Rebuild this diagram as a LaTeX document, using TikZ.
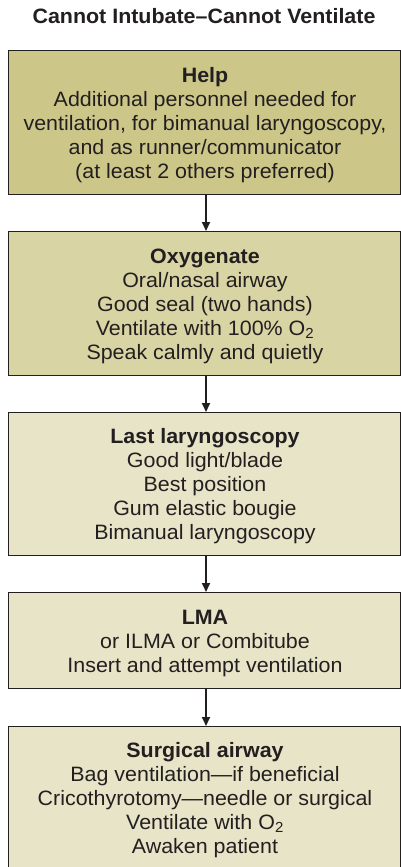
\documentclass[tikz,border=0pt]{standalone}
\usepackage{fontspec}
\setmainfont{Liberation Sans}[FakeStretch=1.03]
\usetikzlibrary{arrows.meta}
\definecolor{boxA}{RGB}{204,199,137}
\definecolor{boxB}{RGB}{217,212,163}
\definecolor{boxC}{RGB}{231,228,199}
\definecolor{ink}{RGB}{35,31,32}
\begin{document}
\begin{tikzpicture}[x=1pt,y=-1pt,
  frame/.style={draw=ink, line width=1pt, minimum width=392pt, inner sep=0pt, anchor=north west},
  txt/.style={align=center, font=\fontsize{20.8}{24}\selectfont, text=ink, anchor=base, inner sep=0pt},
  flow/.style={-{Triangle[width=8pt,length=9pt]}, line width=1.8pt, draw=ink}]
\useasboundingbox (0,0) rectangle (401,867);
\clip (0,0) rectangle (401,867);
\fill[white] (0,0) rectangle (401,867);

\node[txt, font=\fontsize{20.8}{24}\selectfont\bfseries] (title) at (204,24) {Cannot Intubate–Cannot Ventilate};

\node[frame, fill=boxA, minimum height=144pt] (b1) at (8,50) {};
\node[frame, fill=boxB, minimum height=144pt] (b2) at (8,231) {};
\node[frame, fill=boxC, minimum height=143pt] (b3) at (8,412) {};
\node[frame, fill=boxC, minimum height=96pt] (b4) at (8,592) {};
\node[frame, fill=boxC, minimum height=180pt] (b5) at (8,726) {};

% anchor=base of a multi-line node is the baseline of its last line
\node[txt] (t1) at (205,178) {\textbf{Help}\\Additional personnel needed for\\ventilation, for bimanual laryngoscopy,\\and as runner/communicator\\(at least 2 others preferred)};
\node[txt] (t2) at (205,359) {\textbf{Oxygenate}\\Oral/nasal airway\\Good seal (two hands)\\Ventilate with 100\% O\textsubscript{2}\\Speak calmly and quietly};
\node[txt] (t3) at (205,539) {\textbf{Last laryngoscopy}\\Good light/blade\\Best position\\Gum elastic bougie\\Bimanual laryngoscopy};
\node[txt] (t4) at (205,672) {\textbf{LMA}\\or ILMA or Combitube\\Insert and attempt ventilation};
\node[txt] (t5) at (205,853) {\textbf{Surgical airway}\\Bag ventilation—if beneficial\\Cricothyrotomy—needle or surgical\\Ventilate with O\textsubscript{2}\\Awaken patient};

\draw[flow] ([xshift=1.5pt]b1.south) -- ([xshift=1.5pt]b2.north);
\draw[flow] ([xshift=1.5pt]b2.south) -- ([xshift=1.5pt]b3.north);
\draw[flow] ([xshift=1.5pt]b3.south) -- ([xshift=1.5pt]b4.north);
\draw[flow] ([xshift=1.5pt]b4.south) -- ([xshift=1.5pt]b5.north);
\end{tikzpicture}
\end{document}
